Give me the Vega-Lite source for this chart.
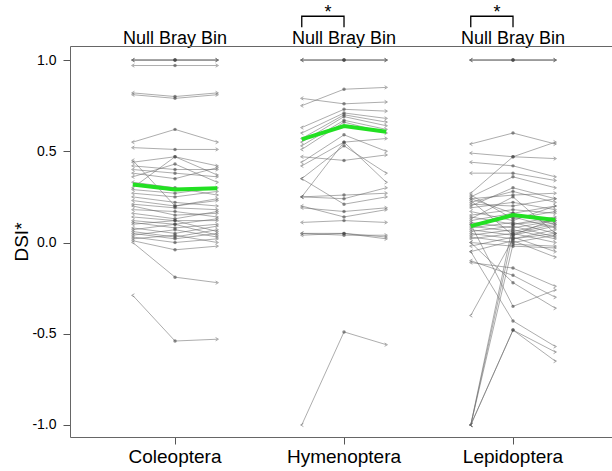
{
  "$schema": "https://vega.github.io/schema/vega-lite/v6.json",
  "width": 542,
  "height": 391,
  "autosize": "none",
  "padding": {"left": 70, "top": 46, "right": 0, "bottom": 34},
  "config": {
    "view": {"stroke": null},
    "font": "Liberation Sans",
    "axis": {"labelFont": "Liberation Sans", "titleFont": "Liberation Sans", "labelColor": "#000", "titleColor": "#000", "grid": false, "domainColor": "#666", "tickColor": "#555", "labelFontWeight": "normal"}
  },
  "datasets": {
    "main": [
      {"g": "Coleoptera", "id": "c1", "Null": 1, "Bray": 1, "Bin": 1},
      {"g": "Coleoptera", "id": "c2", "Null": 1, "Bray": 1, "Bin": 1},
      {"g": "Coleoptera", "id": "c3", "Null": 1, "Bray": 1, "Bin": 1},
      {"g": "Coleoptera", "id": "c4", "Null": 0.97, "Bray": 0.97, "Bin": 0.97},
      {"g": "Coleoptera", "id": "c5", "Null": 0.82, "Bray": 0.80, "Bin": 0.82},
      {"g": "Coleoptera", "id": "c6", "Null": 0.81, "Bray": 0.79, "Bin": 0.81},
      {"g": "Coleoptera", "id": "c7", "Null": 0.55, "Bray": 0.62, "Bin": 0.55},
      {"g": "Coleoptera", "id": "c8", "Null": 0.52, "Bray": 0.51, "Bin": 0.51},
      {"g": "Coleoptera", "id": "c9", "Null": 0.44, "Bray": 0.47, "Bin": 0.42},
      {"g": "Coleoptera", "id": "c10", "Null": 0.42, "Bray": 0.40, "Bin": 0.40},
      {"g": "Coleoptera", "id": "c11", "Null": 0.40, "Bray": 0.38, "Bin": 0.36},
      {"g": "Coleoptera", "id": "c12", "Null": 0.38, "Bray": 0.35, "Bin": 0.41},
      {"g": "Coleoptera", "id": "c13", "Null": 0.36, "Bray": 0.43, "Bin": 0.33},
      {"g": "Coleoptera", "id": "c14", "Null": 0.30, "Bray": 0.47, "Bin": 0.37},
      {"g": "Coleoptera", "id": "c15", "Null": 0.33, "Bray": 0.30, "Bin": 0.26},
      {"g": "Coleoptera", "id": "c16", "Null": 0.29, "Bray": 0.27, "Bin": 0.30},
      {"g": "Coleoptera", "id": "c17", "Null": 0.27, "Bray": 0.25, "Bin": 0.28},
      {"g": "Coleoptera", "id": "c18", "Null": 0.25, "Bray": 0.22, "Bin": 0.20},
      {"g": "Coleoptera", "id": "c19", "Null": 0.23, "Bray": 0.20, "Bin": 0.23},
      {"g": "Coleoptera", "id": "c20", "Null": 0.21, "Bray": 0.19, "Bin": 0.18},
      {"g": "Coleoptera", "id": "c21", "Null": 0.20, "Bray": 0.15, "Bin": 0.16},
      {"g": "Coleoptera", "id": "c22", "Null": 0.18, "Bray": 0.17, "Bin": 0.14},
      {"g": "Coleoptera", "id": "c23", "Null": 0.16, "Bray": 0.13, "Bin": 0.17},
      {"g": "Coleoptera", "id": "c24", "Null": 0.14, "Bray": 0.12, "Bin": 0.12},
      {"g": "Coleoptera", "id": "c25", "Null": 0.12, "Bray": 0.10, "Bin": 0.13},
      {"g": "Coleoptera", "id": "c26", "Null": 0.11, "Bray": 0.08, "Bin": 0.10},
      {"g": "Coleoptera", "id": "c27", "Null": 0.10, "Bray": 0.12, "Bin": 0.06},
      {"g": "Coleoptera", "id": "c28", "Null": 0.08, "Bray": 0.05, "Bin": 0.09},
      {"g": "Coleoptera", "id": "c29", "Null": 0.07, "Bray": 0.10, "Bin": 0.04},
      {"g": "Coleoptera", "id": "c30", "Null": 0.06, "Bray": 0.03, "Bin": 0.07},
      {"g": "Coleoptera", "id": "c31", "Null": 0.05, "Bray": 0.02, "Bin": 0.05},
      {"g": "Coleoptera", "id": "c32", "Null": 0.04, "Bray": 0.07, "Bin": 0.03},
      {"g": "Coleoptera", "id": "c33", "Null": 0.03, "Bray": 0.00, "Bin": 0.02},
      {"g": "Coleoptera", "id": "c34", "Null": 0.02, "Bray": 0.04, "Bin": 0.00},
      {"g": "Coleoptera", "id": "c35", "Null": 0.01, "Bray": -0.04, "Bin": -0.02},
      {"g": "Coleoptera", "id": "c36", "Null": 0.00, "Bray": -0.19, "Bin": -0.22},
      {"g": "Coleoptera", "id": "c37", "Null": -0.29, "Bray": -0.54, "Bin": -0.53},
      {"g": "Coleoptera", "id": "c38", "Null": 0.45, "Bray": 0.20, "Bin": 0.24},
      {"g": "Hymenoptera", "id": "h1", "Null": 1, "Bray": 1, "Bin": 1},
      {"g": "Hymenoptera", "id": "h2", "Null": 1, "Bray": 1, "Bin": 1},
      {"g": "Hymenoptera", "id": "h3", "Null": 1, "Bray": 1, "Bin": 1},
      {"g": "Hymenoptera", "id": "h4", "Null": 0.79, "Bray": 0.76, "Bin": 0.77},
      {"g": "Hymenoptera", "id": "h5", "Null": 0.75, "Bray": 0.84, "Bin": 0.85},
      {"g": "Hymenoptera", "id": "h6", "Null": 0.63, "Bray": 0.73, "Bin": 0.72},
      {"g": "Hymenoptera", "id": "h7", "Null": 0.60, "Bray": 0.71, "Bin": 0.68},
      {"g": "Hymenoptera", "id": "h8", "Null": 0.57, "Bray": 0.70, "Bin": 0.66},
      {"g": "Hymenoptera", "id": "h9", "Null": 0.55, "Bray": 0.69, "Bin": 0.64},
      {"g": "Hymenoptera", "id": "h10", "Null": 0.53, "Bray": 0.67, "Bin": 0.62},
      {"g": "Hymenoptera", "id": "h11", "Null": 0.51, "Bray": 0.66, "Bin": 0.60},
      {"g": "Hymenoptera", "id": "h12", "Null": 0.47, "Bray": 0.45, "Bin": 0.48},
      {"g": "Hymenoptera", "id": "h13", "Null": 0.44, "Bray": 0.59, "Bin": 0.50},
      {"g": "Hymenoptera", "id": "h14", "Null": 0.42, "Bray": 0.55, "Bin": 0.57},
      {"g": "Hymenoptera", "id": "h15", "Null": 0.35, "Bray": 0.53, "Bin": 0.38},
      {"g": "Hymenoptera", "id": "h16", "Null": 0.25, "Bray": 0.55, "Bin": 0.33},
      {"g": "Hymenoptera", "id": "h17", "Null": 0.25, "Bray": 0.24, "Bin": 0.30},
      {"g": "Hymenoptera", "id": "h18", "Null": 0.25, "Bray": 0.26, "Bin": 0.27},
      {"g": "Hymenoptera", "id": "h19", "Null": 0.35, "Bray": 0.21, "Bin": 0.25},
      {"g": "Hymenoptera", "id": "h20", "Null": 0.19, "Bray": 0.17, "Bin": 0.19},
      {"g": "Hymenoptera", "id": "h21", "Null": 0.20, "Bray": 0.14, "Bin": 0.18},
      {"g": "Hymenoptera", "id": "h22", "Null": 0.11, "Bray": 0.12, "Bin": 0.11},
      {"g": "Hymenoptera", "id": "h23", "Null": 0.05, "Bray": 0.05, "Bin": 0.03},
      {"g": "Hymenoptera", "id": "h24", "Null": 0.04, "Bray": 0.05, "Bin": 0.02},
      {"g": "Hymenoptera", "id": "h25", "Null": 0.05, "Bray": 0.04, "Bin": 0.04},
      {"g": "Hymenoptera", "id": "h26", "Null": -1.00, "Bray": -0.49, "Bin": -0.56},
      {"g": "Lepidoptera", "id": "l1", "Null": 1, "Bray": 1, "Bin": 1},
      {"g": "Lepidoptera", "id": "l2", "Null": 1, "Bray": 1, "Bin": 1},
      {"g": "Lepidoptera", "id": "l3", "Null": 1, "Bray": 1, "Bin": 1},
      {"g": "Lepidoptera", "id": "l4", "Null": 0.54, "Bray": 0.60, "Bin": 0.54},
      {"g": "Lepidoptera", "id": "l5", "Null": 0.49, "Bray": 0.47, "Bin": 0.55},
      {"g": "Lepidoptera", "id": "l6", "Null": 0.44, "Bray": 0.42, "Bin": 0.36},
      {"g": "Lepidoptera", "id": "l7", "Null": 0.38, "Bray": 0.38, "Bin": 0.34},
      {"g": "Lepidoptera", "id": "l8", "Null": 0.27, "Bray": 0.47, "Bin": 0.46},
      {"g": "Lepidoptera", "id": "l9", "Null": 0.25, "Bray": 0.36, "Bin": 0.30},
      {"g": "Lepidoptera", "id": "l10", "Null": 0.24, "Bray": 0.26, "Bin": 0.27},
      {"g": "Lepidoptera", "id": "l11", "Null": 0.22, "Bray": 0.28, "Bin": 0.22},
      {"g": "Lepidoptera", "id": "l12", "Null": 0.21, "Bray": 0.20, "Bin": 0.24},
      {"g": "Lepidoptera", "id": "l13", "Null": 0.19, "Bray": 0.22, "Bin": 0.18},
      {"g": "Lepidoptera", "id": "l14", "Null": 0.17, "Bray": 0.12, "Bin": 0.20},
      {"g": "Lepidoptera", "id": "l15", "Null": 0.15, "Bray": 0.18, "Bin": 0.16},
      {"g": "Lepidoptera", "id": "l16", "Null": 0.14, "Bray": 0.10, "Bin": 0.14},
      {"g": "Lepidoptera", "id": "l17", "Null": 0.12, "Bray": 0.16, "Bin": 0.10},
      {"g": "Lepidoptera", "id": "l18", "Null": 0.11, "Bray": 0.08, "Bin": 0.12},
      {"g": "Lepidoptera", "id": "l19", "Null": 0.10, "Bray": 0.14, "Bin": 0.08},
      {"g": "Lepidoptera", "id": "l20", "Null": 0.09, "Bray": 0.06, "Bin": 0.11},
      {"g": "Lepidoptera", "id": "l21", "Null": 0.08, "Bray": 0.11, "Bin": 0.05},
      {"g": "Lepidoptera", "id": "l22", "Null": 0.07, "Bray": 0.04, "Bin": 0.09},
      {"g": "Lepidoptera", "id": "l23", "Null": 0.06, "Bray": 0.09, "Bin": 0.03},
      {"g": "Lepidoptera", "id": "l24", "Null": 0.05, "Bray": 0.02, "Bin": 0.07},
      {"g": "Lepidoptera", "id": "l25", "Null": 0.04, "Bray": 0.07, "Bin": 0.02},
      {"g": "Lepidoptera", "id": "l26", "Null": 0.03, "Bray": 0.00, "Bin": 0.04},
      {"g": "Lepidoptera", "id": "l27", "Null": 0.02, "Bray": 0.05, "Bin": 0.00},
      {"g": "Lepidoptera", "id": "l28", "Null": 0.00, "Bray": -0.02, "Bin": -0.03},
      {"g": "Lepidoptera", "id": "l29", "Null": -0.02, "Bray": 0.03, "Bin": -0.05},
      {"g": "Lepidoptera", "id": "l30", "Null": -0.05, "Bray": 0.01, "Bin": -0.08},
      {"g": "Lepidoptera", "id": "l31", "Null": -0.10, "Bray": -0.18, "Bin": -0.30},
      {"g": "Lepidoptera", "id": "l32", "Null": -0.11, "Bray": -0.14, "Bin": -0.24},
      {"g": "Lepidoptera", "id": "l33", "Null": -0.40, "Bray": 0.02, "Bin": 0.05},
      {"g": "Lepidoptera", "id": "l34", "Null": 0.00, "Bray": -0.22, "Bin": -0.36},
      {"g": "Lepidoptera", "id": "l35", "Null": 0.10, "Bray": -0.35, "Bin": -0.26},
      {"g": "Lepidoptera", "id": "l36", "Null": -0.05, "Bray": -0.43, "Bin": -0.57},
      {"g": "Lepidoptera", "id": "l37", "Null": -1.00, "Bray": -0.48, "Bin": -0.60},
      {"g": "Lepidoptera", "id": "l38", "Null": -1.00, "Bray": -0.48, "Bin": -0.65},
      {"g": "Lepidoptera", "id": "l39", "Null": -1.00, "Bray": 0.05, "Bin": 0.10},
      {"g": "Lepidoptera", "id": "l40", "Null": -1.00, "Bray": 0.10, "Bin": 0.12},
      {"g": "Lepidoptera", "id": "l41", "Null": -1.00, "Bray": -0.01, "Bin": -0.02},
      {"g": "Lepidoptera", "id": "l42", "Null": 0.24, "Bray": 0.16, "Bin": 0.20},
      {"g": "Lepidoptera", "id": "l43", "Null": 0.13, "Bray": 0.25, "Bin": 0.05},
      {"g": "Lepidoptera", "id": "l44", "Null": 0.20, "Bray": 0.30, "Bin": 0.24},
      {"g": "Lepidoptera", "id": "l45", "Null": 0.26, "Bray": 0.13, "Bin": 0.17},
      {"g": "Lepidoptera", "id": "l46", "Null": 0.23, "Bray": 0.04, "Bin": 0.13}
    ],
    "mean": [
      {"g": "Coleoptera", "k": "Null", "v": 0.318},
      {"g": "Coleoptera", "k": "Bray", "v": 0.29},
      {"g": "Coleoptera", "k": "Bin", "v": 0.297},
      {"g": "Hymenoptera", "k": "Null", "v": 0.565},
      {"g": "Hymenoptera", "k": "Bray", "v": 0.638},
      {"g": "Hymenoptera", "k": "Bin", "v": 0.607},
      {"g": "Lepidoptera", "k": "Null", "v": 0.09},
      {"g": "Lepidoptera", "k": "Bray", "v": 0.15},
      {"g": "Lepidoptera", "k": "Bin", "v": 0.123}
    ],
    "bracket": [
      {"g": "Hymenoptera", "k": "Null", "v": 1.18, "o": 1},
      {"g": "Hymenoptera", "k": "Null", "v": 1.24, "o": 2},
      {"g": "Hymenoptera", "k": "Bray", "v": 1.24, "o": 3},
      {"g": "Hymenoptera", "k": "Bray", "v": 1.18, "o": 4},
      {"g": "Lepidoptera", "k": "Null", "v": 1.18, "o": 1},
      {"g": "Lepidoptera", "k": "Null", "v": 1.24, "o": 2},
      {"g": "Lepidoptera", "k": "Bray", "v": 1.24, "o": 3},
      {"g": "Lepidoptera", "k": "Bray", "v": 1.18, "o": 4}
    ],
    "star": [
      {"g": "Hymenoptera", "k": "Bray", "v": 1.285, "t": "*"},
      {"g": "Lepidoptera", "k": "Bray", "v": 1.285, "t": "*"}
    ]
  },
  "encoding": {
    "x": {
      "field": "g", "type": "nominal",
      "scale": {"type": "band", "domain": ["Coleoptera", "Hymenoptera", "Lepidoptera"], "paddingInner": 0, "paddingOuter": 0.1036, "align": 0.586},
      "axis": null
    },
    "xOffset": {"field": "k", "type": "nominal", "scale": {"type": "point", "domain": ["Null", "Bray", "Bin"], "padding": 1.56}},
    "y": {
      "field": "v", "type": "quantitative",
      "scale": {"domain": [-1.066, 1.077], "nice": false, "zero": false},
      "axis": {"values": [-1, -0.5, 0, 0.5, 1], "labelExpr": "datum.value < 0 ? '-' + format(-datum.value, '.1f') : format(datum.value, '.1f')", "labelFontSize": 14, "tickSize": 7, "labelPadding": 7, "title": "DSI*", "titleFontSize": 19, "titleFontWeight": "normal", "titlePadding": 0}
    }
  },
  "layer": [
    {
      "data": {"name": "main"},
      "transform": [{"fold": ["Null", "Bray", "Bin"], "as": ["k", "v"]}],
      "mark": {"type": "line", "color": "#666", "strokeWidth": 0.9, "opacity": 0.6},
      "encoding": {
        "detail": {"field": "id"},
        "order": {"field": "k"},
        "x": {
          "field": "g", "type": "nominal",
          "axis": {"orient": "bottom", "title": null, "labelAngle": 0, "labelFontSize": 19, "labelFontWeight": "normal", "tickSize": 7, "labelPadding": 3, "domainWidth": 1, "ticks": true}
        }
      }
    },
    {
      "data": {"name": "main"},
      "transform": [{"fold": ["Null", "Bray", "Bin"], "as": ["k", "v"]}, {"filter": "datum.k === 'Bray'"}],
      "mark": {"type": "point", "filled": true, "color": "#444", "size": 12, "opacity": 0.6}
    },
    {
      "data": {"name": "main"},
      "transform": [{"fold": ["Null", "Bray", "Bin"], "as": ["k", "v"]}, {"filter": "datum.k !== 'Bray'"}],
      "mark": {"type": "point", "filled": false, "color": "#666", "size": 22, "strokeWidth": 0.8, "opacity": 0.7},
      "encoding": {
        "shape": {"field": "k", "type": "nominal", "legend": null, "scale": {"domain": ["Null", "Bin"], "range": ["M0.7,-0.7L-0.5,0L0.7,0.7", "M-0.7,-0.7L0.5,0L-0.7,0.7"]}}
      }
    },
    {
      "data": {"name": "mean"},
      "mark": {"type": "line", "color": "#22e022", "strokeWidth": 4},
      "encoding": {
        "detail": {"field": "g"},
        "order": {"field": "k"},
        "x": {
          "field": "g", "type": "nominal",
          "axis": {"orient": "top", "title": null, "ticks": false, "labelExpr": "'Null Bray Bin'", "labelFontSize": 18, "labelFontWeight": "normal", "labelPadding": -1, "labelAngle": 0}
        }
      }
    },
    {
      "data": {"name": "bracket"},
      "mark": {"type": "line", "color": "#000", "strokeWidth": 1.3, "clip": false},
      "encoding": {"detail": {"field": "g"}, "order": {"field": "o"}}
    },
    {
      "data": {"name": "star"},
      "mark": {"type": "text", "fontSize": 18, "dx": -16, "dy": 5, "color": "#000"},
      "encoding": {"text": {"field": "t"}}
    }
  ]
}
